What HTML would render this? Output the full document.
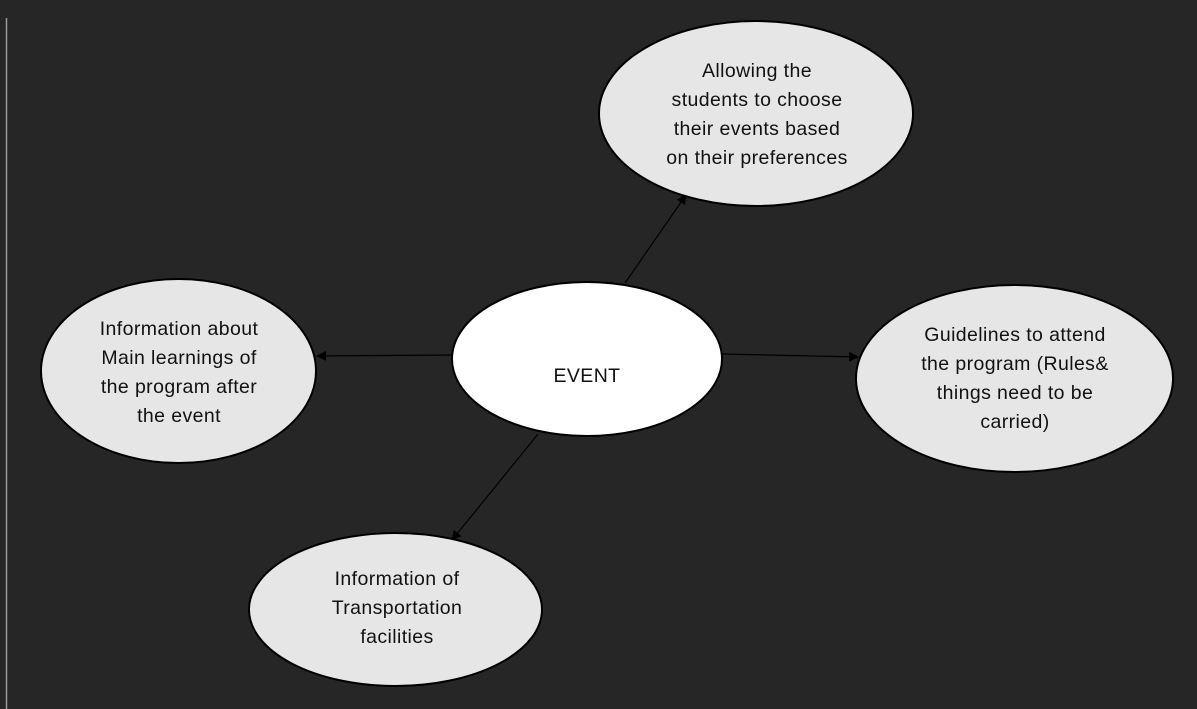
<!DOCTYPE html>
<html><head><style>
html,body{margin:0;padding:0;background:#262626;}
svg{display:block;}
text{font-family:"Liberation Sans",sans-serif;font-size:19.5px;letter-spacing:0.4px;fill:#111;text-anchor:middle;}
</style></head><body>
<svg width="1197" height="709" viewBox="0 0 1197 709" xmlns="http://www.w3.org/2000/svg">
<defs><marker id="a" markerWidth="10" markerHeight="10" refX="9" refY="5" orient="auto" markerUnits="userSpaceOnUse"><path d="M0,0 L10,5 L0,10 z" fill="#000"/></marker></defs>
<rect width="1197" height="709" fill="#262626"/>
<line x1="6.5" y1="18" x2="6.5" y2="709" stroke="#9a9a9a" stroke-width="1.5"/>
<g stroke="#000" stroke-width="1.2" marker-end="url(#a)">
<line x1="625" y1="283" x2="686" y2="195"/>
<line x1="452" y1="355" x2="317" y2="356"/>
<line x1="722" y1="354" x2="858" y2="357"/>
<line x1="538" y1="434" x2="452" y2="540"/>
</g>
<g stroke="#000" stroke-width="2">
<ellipse cx="756" cy="113.5" rx="157" ry="92.5" fill="#e6e6e6"/>
<ellipse cx="178.5" cy="371" rx="137.5" ry="92" fill="#e6e6e6"/>
<ellipse cx="1014.5" cy="378.5" rx="158.5" ry="93.5" fill="#e6e6e6"/>
<ellipse cx="395.5" cy="609.5" rx="146.5" ry="76.5" fill="#e6e6e6"/>
<ellipse cx="587" cy="359" rx="135" ry="77" fill="#fff"/>
</g>
<text x="587" y="382">EVENT</text>
<text x="757" y="77">Allowing the</text>
<text x="757" y="106">students to choose</text>
<text x="757" y="135">their events based</text>
<text x="757" y="164">on their preferences</text>
<text x="179" y="335">Information about</text>
<text x="179" y="364">Main learnings of</text>
<text x="179" y="393">the program after</text>
<text x="179" y="422">the event</text>
<text x="1015" y="341">Guidelines to attend</text>
<text x="1015" y="370">the program (Rules&amp;</text>
<text x="1015" y="399">things need to be</text>
<text x="1015" y="428">carried)</text>
<text x="397" y="585">Information of</text>
<text x="397" y="614">Transportation</text>
<text x="397" y="643">facilities</text>
</svg>
</body></html>
